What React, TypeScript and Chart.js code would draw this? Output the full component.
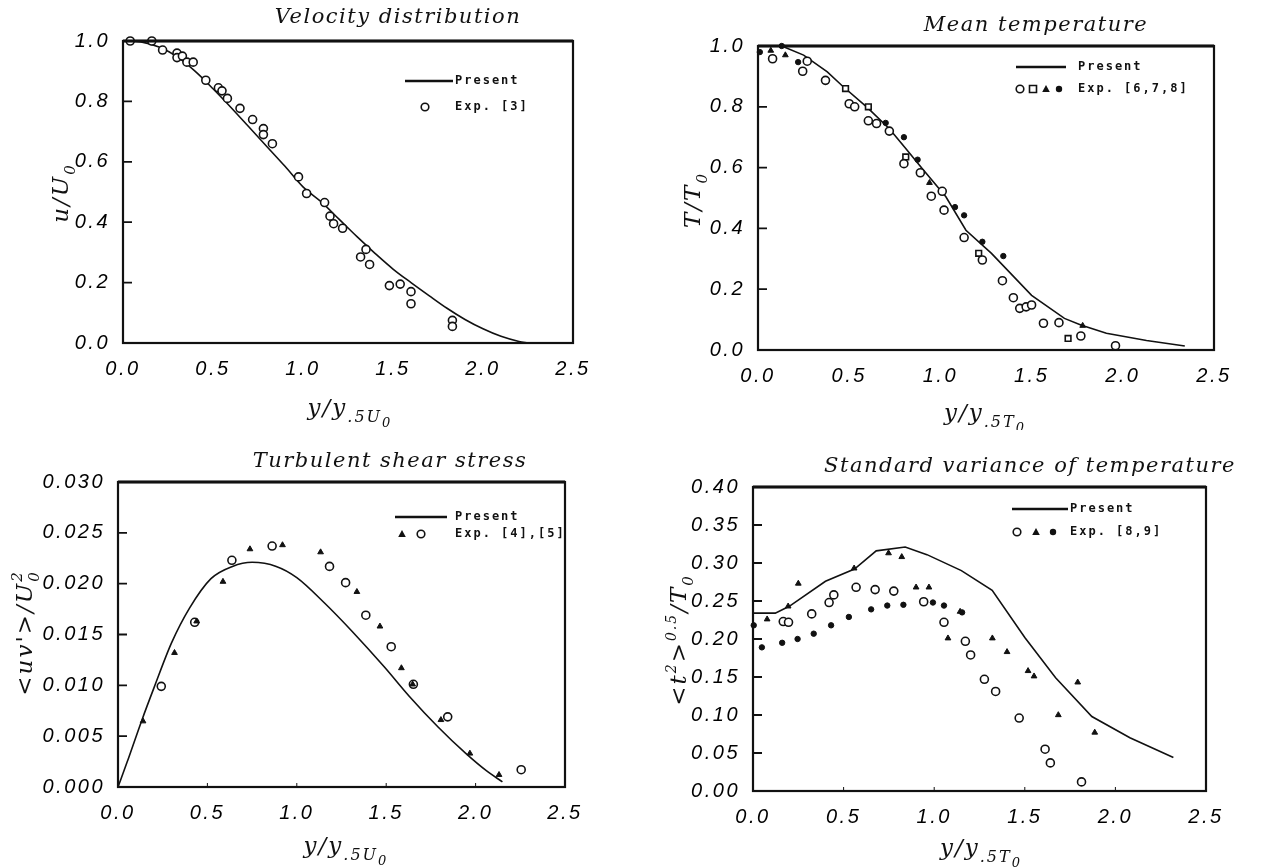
import React, { useEffect, useRef } from "react";
import { Chart, registerables } from "chart.js";

Chart.register(...registerables);

// ---------------- shared axis ticks ----------------
const xTickValues = [0, 0.5, 1.0, 1.5, 2.0, 2.5];
const velYTicks = [0, 0.2, 0.4, 0.6, 0.8, 1.0];
const tempYTicks = [0, 0.2, 0.4, 0.6, 0.8, 1.0];
const shearYTicks = [0, 0.005, 0.01, 0.015, 0.02, 0.025, 0.03];
const varYTicks = [0, 0.05, 0.1, 0.15, 0.2, 0.25, 0.3, 0.35, 0.4];

// ---------------- Velocity distribution ----------------
const velPresentX = [0, 0.1, 0.2, 0.3, 0.4, 0.5, 0.6, 0.7, 0.8, 0.9, 1.0, 1.1, 1.2, 1.3, 1.4, 1.5, 1.6, 1.7, 1.8, 1.9, 2.0, 2.1, 2.2, 2.25];
const velPresentY = [1.0, 0.997, 0.98, 0.948, 0.9, 0.842, 0.78, 0.715, 0.65, 0.585, 0.517, 0.468, 0.41, 0.352, 0.297, 0.245, 0.2, 0.157, 0.115, 0.078, 0.047, 0.022, 0.005, 0.0];
const velExpX = [0.04, 0.16, 0.22, 0.30, 0.30, 0.33, 0.355, 0.39, 0.46, 0.53, 0.55, 0.58, 0.65, 0.72, 0.78, 0.78, 0.83, 0.975, 1.02, 1.12, 1.15, 1.17, 1.22, 1.32, 1.35, 1.37, 1.48, 1.54, 1.60, 1.60, 1.83, 1.83];
const velExpY = [1.0, 1.0, 0.97, 0.96, 0.945, 0.95, 0.93, 0.93, 0.87, 0.845, 0.835, 0.81, 0.777, 0.74, 0.71, 0.69, 0.66, 0.55, 0.495, 0.465, 0.42, 0.395, 0.38, 0.285, 0.31, 0.26, 0.19, 0.195, 0.17, 0.13, 0.075, 0.055];

// ---------------- Mean temperature ----------------
const tempPresentX = [0, 0.13, 0.25, 0.38, 0.46, 0.6, 0.72, 0.81, 0.9, 1.03, 1.14, 1.28, 1.5, 1.68, 1.77, 1.91, 2.13, 2.34];
const tempPresentY = [1.0, 1.0, 0.97, 0.915, 0.87, 0.797, 0.728, 0.663, 0.597, 0.504, 0.394, 0.318, 0.18, 0.104, 0.082, 0.055, 0.031, 0.013];
const tempCircleX = [0.08, 0.27, 0.245, 0.37, 0.50, 0.53, 0.605, 0.65, 0.72, 0.80, 0.89, 0.95, 1.01, 1.02, 1.13, 1.23, 1.34, 1.40, 1.435, 1.47, 1.50, 1.565, 1.65, 1.77, 1.96];
const tempCircleY = [0.958, 0.95, 0.917, 0.887, 0.81, 0.80, 0.754, 0.745, 0.72, 0.613, 0.583, 0.506, 0.522, 0.46, 0.37, 0.296, 0.228, 0.172, 0.137, 0.142, 0.148, 0.088, 0.09, 0.046, 0.014];
const tempSquareX = [0.48, 0.605, 0.81, 1.21, 1.70];
const tempSquareY = [0.86, 0.80, 0.635, 0.318, 0.038];
const tempTriangleX = [0.07, 0.15, 0.94, 1.78];
const tempTriangleY = [0.985, 0.97, 0.55, 0.08];
const tempDotX = [0.01, 0.13, 0.22, 0.70, 0.80, 0.875, 1.08, 1.13, 1.23, 1.345];
const tempDotY = [0.98, 1.0, 0.947, 0.747, 0.70, 0.626, 0.47, 0.443, 0.356, 0.309];

// ---------------- Turbulent shear stress ----------------
const shearPresentX = [0, 0.05, 0.134, 0.2, 0.3, 0.4, 0.52, 0.64, 0.75, 0.885, 1.0, 1.155, 1.31, 1.49, 1.63, 1.79, 1.945, 2.06, 2.15];
const shearPresentY = [0, 0.0024, 0.0066, 0.0097, 0.0142, 0.0176, 0.0205, 0.0217, 0.0221, 0.0217, 0.0206, 0.0181, 0.0153, 0.0118, 0.0089, 0.0059, 0.0033, 0.0016, 0.0005];
const shearTriX = [0.14, 0.316, 0.44, 0.587, 0.738, 0.92, 1.133, 1.336, 1.465, 1.585, 1.648, 1.806, 1.968, 2.131];
const shearTriY = [0.00647, 0.0132, 0.0163, 0.0202, 0.0234, 0.0238, 0.0231, 0.0192, 0.0158, 0.0117, 0.0101, 0.0066, 0.0033, 0.0012];
const shearCircleX = [0.242, 0.429, 0.637, 0.862, 1.183, 1.273, 1.386, 1.528, 1.652, 1.844, 2.255];
const shearCircleY = [0.0099, 0.0162, 0.0223, 0.0237, 0.0217, 0.0201, 0.0169, 0.0138, 0.0101, 0.0069, 0.0017];

// ---------------- Standard variance of temperature ----------------
const varPresentX = [0, 0.123, 0.2, 0.4, 0.56, 0.68, 0.84, 0.96, 1.15, 1.32, 1.5, 1.67, 1.87, 2.08, 2.32];
const varPresentY = [0.234, 0.234, 0.243, 0.276, 0.292, 0.316, 0.321, 0.311, 0.29, 0.264, 0.202, 0.149, 0.098, 0.07, 0.044];
const varCircleX = [0.167, 0.196, 0.324, 0.42, 0.446, 0.569, 0.674, 0.777, 0.942, 1.054, 1.172, 1.201, 1.277, 1.339, 1.469, 1.612, 1.641, 1.813];
const varCircleY = [0.223, 0.222, 0.233, 0.248, 0.258, 0.268, 0.265, 0.263, 0.249, 0.222, 0.197, 0.179, 0.147, 0.131, 0.096, 0.055, 0.037, 0.012];
const varTriX = [0.078, 0.194, 0.25, 0.558, 0.748, 0.821, 0.9, 0.971, 1.076, 1.143, 1.321, 1.402, 1.518, 1.551, 1.685, 1.792, 1.886];
const varTriY = [0.226, 0.243, 0.273, 0.293, 0.313, 0.308, 0.268, 0.268, 0.201, 0.236, 0.201, 0.183, 0.158, 0.151, 0.1, 0.143, 0.077];
const varDotX = [0.004, 0.049, 0.161, 0.246, 0.335, 0.431, 0.529, 0.652, 0.741, 0.83, 0.9375, 0.993, 1.054, 1.154];
const varDotY = [0.218, 0.189, 0.195, 0.2, 0.207, 0.218, 0.229, 0.239, 0.244, 0.245, 0.249, 0.248, 0.244, 0.235];

// ---------------- helpers ----------------
const INK = "#111";

type Marker = "open-circle" | "open-square" | "triangle" | "dot";
type Seg = { t: string; dy?: number; s?: number; stack?: boolean };
interface Series { xs: number[]; ys: number[]; marker: Marker }
interface Panel {
  pos: { left: number; top: number; w: number; h: number };
  area: { l: number; r: number; t: number; b: number };
  line: { xs: number[]; ys: number[]; smooth: boolean };
  exp: Series[];
  yMax: number;
  yTicks: number[];
  yDec: number;
  title: string;
  titlePos: [number, number];
  yTitle: Seg[];
  yTitlePos: [number, number];
  xTitle: Seg[];
  xTitlePos: [number, number];
  legend: { lineX: [number, number]; textX: number; y1: number; y2: number; markerX: number[]; markers: Marker[]; label: string };
  xInTicks: boolean;
}

const pts = (xs: number[], ys: number[]) => xs.map((x, i) => ({ x, y: ys[i] }));

function markerStyle(m: Marker) {
  switch (m) {
    case "open-circle":
      return { pointStyle: "circle", pointRadius: 4, pointBackgroundColor: "#fff", pointBorderColor: INK, pointBorderWidth: 1.6 };
    case "open-square":
      return { pointStyle: "rect", pointRadius: 4, pointBackgroundColor: "#fff", pointBorderColor: INK, pointBorderWidth: 1.6 };
    case "triangle":
      return { pointStyle: "triangle", pointRadius: 3.3, pointBackgroundColor: INK, pointBorderColor: INK, pointBorderWidth: 1 };
    default:
      return { pointStyle: "circle", pointRadius: 2.7, pointBackgroundColor: INK, pointBorderColor: INK, pointBorderWidth: 1 };
  }
}

function drawMarker(ctx: CanvasRenderingContext2D, m: Marker, x: number, y: number) {
  ctx.save();
  ctx.lineWidth = 1.6;
  ctx.strokeStyle = INK;
  ctx.fillStyle = INK;
  ctx.beginPath();
  if (m === "open-circle") {
    ctx.arc(x, y, 3.8, 0, Math.PI * 2);
    ctx.stroke();
  } else if (m === "open-square") {
    ctx.rect(x - 3.5, y - 3.5, 7, 7);
    ctx.stroke();
  } else if (m === "triangle") {
    ctx.moveTo(x, y - 4);
    ctx.lineTo(x + 3.8, y + 3);
    ctx.lineTo(x - 3.8, y + 3);
    ctx.closePath();
    ctx.fill();
  } else {
    ctx.arc(x, y, 3.2, 0, Math.PI * 2);
    ctx.fill();
  }
  ctx.restore();
}

function drawRich(ctx: CanvasRenderingContext2D, segs: Seg[], cx: number, cy: number, size: number, rotate: boolean) {
  ctx.save();
  ctx.translate(cx, cy);
  if (rotate) ctx.rotate(-Math.PI / 2);
  (ctx as any).letterSpacing = "2px";
  ctx.textBaseline = "alphabetic";
  ctx.textAlign = "left";
  const fontFor = (s: number) => `italic ${Math.round(size * s)}px "DejaVu Serif", serif`;
  const widths = segs.map((sg) => {
    ctx.font = fontFor(sg.s ?? 1);
    return ctx.measureText(sg.t).width;
  });
  let total = 0;
  let prevStart = 0;
  const starts: number[] = [];
  segs.forEach((sg, i) => {
    const st = sg.stack ? prevStart : total;
    starts.push(st);
    total = Math.max(total, st + widths[i]);
    prevStart = st;
  });
  const x0 = -total / 2;
  segs.forEach((sg, i) => {
    ctx.font = fontFor(sg.s ?? 1);
    ctx.fillText(sg.t, x0 + starts[i], size * 0.36 + (sg.dy ?? 0) * size);
  });
  ctx.restore();
}

function makeDecor(p: Panel) {
  return {
    id: "decor",
    beforeDraw(chart: any) {
      chart.ctx.letterSpacing = "2.5px";
    },
    afterDraw(chart: any) {
      const ctx: CanvasRenderingContext2D = chart.ctx;
      const a = chart.chartArea;
      ctx.save();
      (ctx as any).letterSpacing = "0px";
      ctx.strokeStyle = INK;
      ctx.fillStyle = INK;
      // frame
      ctx.lineWidth = 2.2;
      ctx.strokeRect(a.left, a.top, a.right - a.left, a.bottom - a.top);
      ctx.lineWidth = 3;
      ctx.beginPath();
      ctx.moveTo(a.left, a.top);
      ctx.lineTo(a.right, a.top);
      ctx.stroke();
      // inward y ticks
      ctx.lineWidth = 1.8;
      const ys = chart.scales.y;
      ctx.beginPath();
      ys.ticks.forEach((t: any) => {
        const py = ys.getPixelForValue(t.value);
        ctx.moveTo(a.left, py);
        ctx.lineTo(a.left + 9, py);
      });
      ctx.stroke();
      if (p.xInTicks) {
        const xs = chart.scales.x;
        ctx.lineWidth = 1;
        ctx.beginPath();
        xs.ticks.forEach((t: any) => {
          if (t.value <= 0 || t.value >= 2.5) return;
          const px = xs.getPixelForValue(t.value);
          ctx.moveTo(px, a.bottom);
          ctx.lineTo(px, a.bottom - 4);
        });
        ctx.stroke();
      }
      // title
      ctx.font = 'italic 21px "DejaVu Serif", serif';
      (ctx as any).letterSpacing = "1.5px";
      ctx.textAlign = "center";
      ctx.textBaseline = "middle";
      ctx.fillText(p.title, p.titlePos[0], p.titlePos[1]);
      // axis titles
      drawRich(ctx, p.yTitle, p.yTitlePos[0], p.yTitlePos[1], 23, true);
      drawRich(ctx, p.xTitle, p.xTitlePos[0], p.xTitlePos[1], 23, false);
      // legend
      const L = p.legend;
      ctx.lineWidth = 2.4;
      ctx.beginPath();
      ctx.moveTo(L.lineX[0], L.y1);
      ctx.lineTo(L.lineX[1], L.y1);
      ctx.stroke();
      ctx.font = 'bold 12px "DejaVu Sans Mono", monospace';
      (ctx as any).letterSpacing = "2px";
      ctx.textAlign = "left";
      ctx.textBaseline = "middle";
      ctx.fillText("Present", L.textX, L.y1);
      ctx.fillText(L.label, L.textX, L.y2);
      L.markers.forEach((m, i) => drawMarker(ctx, m, L.markerX[i], L.y2));
      ctx.restore();
    },
  };
}

// ---------------- panels ----------------
const sub5U: Seg[] = [{ t: "y/y" }, { t: ".5U", dy: 0.3, s: 0.7 }, { t: "0", dy: 0.5, s: 0.55 }];
const sub5T: Seg[] = [{ t: "y/y" }, { t: ".5T", dy: 0.3, s: 0.7 }, { t: "0", dy: 0.5, s: 0.55 }];

const panels: Panel[] = [
  {
    pos: { left: 0, top: 0, w: 635, h: 430 },
    area: { l: 123, r: 573, t: 41, b: 343 },
    line: { xs: velPresentX, ys: velPresentY, smooth: true },
    exp: [{ xs: velExpX, ys: velExpY, marker: "open-circle" }],
    yMax: 1.0,
    yTicks: velYTicks,
    yDec: 1,
    title: "Velocity distribution",
    titlePos: [398, 18],
    yTitle: [{ t: "u/U" }, { t: "0", dy: 0.3, s: 0.65 }],
    yTitlePos: [60, 193],
    xTitle: sub5U,
    xTitlePos: [350, 407],
    legend: { lineX: [405, 453], textX: 455, y1: 81, y2: 107, markerX: [425], markers: ["open-circle"], label: "Exp. [3]" },
    xInTicks: false,
  },
  {
    pos: { left: 635, top: 0, w: 635, h: 430 },
    area: { l: 123, r: 579, t: 46, b: 350 },
    line: { xs: tempPresentX, ys: tempPresentY, smooth: false },
    exp: [
      { xs: tempCircleX, ys: tempCircleY, marker: "open-circle" },
      { xs: tempSquareX, ys: tempSquareY, marker: "open-square" },
      { xs: tempTriangleX, ys: tempTriangleY, marker: "triangle" },
      { xs: tempDotX, ys: tempDotY, marker: "dot" },
    ],
    yMax: 1.0,
    yTicks: tempYTicks,
    yDec: 1,
    title: "Mean temperature",
    titlePos: [401, 26],
    yTitle: [{ t: "T/T" }, { t: "0", dy: 0.3, s: 0.65 }],
    yTitlePos: [57, 200],
    xTitle: sub5T,
    xTitlePos: [350, 412],
    legend: { lineX: [381, 431], textX: 443, y1: 67, y2: 89, markerX: [385, 398, 411, 424], markers: ["open-circle", "open-square", "triangle", "dot"], label: "Exp. [6,7,8]" },
    xInTicks: false,
  },
  {
    pos: { left: 0, top: 430, w: 635, h: 437 },
    area: { l: 118, r: 565, t: 52, b: 357 },
    line: { xs: shearPresentX, ys: shearPresentY, smooth: true },
    exp: [
      { xs: shearTriX, ys: shearTriY, marker: "triangle" },
      { xs: shearCircleX, ys: shearCircleY, marker: "open-circle" },
    ],
    yMax: 0.03,
    yTicks: shearYTicks,
    yDec: 3,
    title: "Turbulent shear stress",
    titlePos: [390, 32],
    yTitle: [{ t: "<uv'>/U" }, { t: "0", dy: 0.3, s: 0.65 }, { t: "2", dy: -0.45, s: 0.65, stack: true }],
    yTitlePos: [24, 203],
    xTitle: sub5U,
    xTitlePos: [346, 415],
    legend: { lineX: [395, 447], textX: 455, y1: 87, y2: 104, markerX: [402, 421], markers: ["triangle", "open-circle"], label: "Exp. [4],[5]" },
    xInTicks: true,
  },
  {
    pos: { left: 635, top: 430, w: 635, h: 437 },
    area: { l: 118, r: 571, t: 57, b: 361 },
    line: { xs: varPresentX, ys: varPresentY, smooth: false },
    exp: [
      { xs: varCircleX, ys: varCircleY, marker: "open-circle" },
      { xs: varTriX, ys: varTriY, marker: "triangle" },
      { xs: varDotX, ys: varDotY, marker: "dot" },
    ],
    yMax: 0.4,
    yTicks: varYTicks,
    yDec: 2,
    title: "Standard variance of temperature",
    titlePos: [395, 37],
    yTitle: [{ t: "<t" }, { t: "2", dy: -0.45, s: 0.6 }, { t: ">" }, { t: "0.5", dy: -0.45, s: 0.6 }, { t: "/T" }, { t: "0", dy: 0.3, s: 0.65 }],
    yTitlePos: [43, 210],
    xTitle: sub5T,
    xTitlePos: [346, 417],
    legend: { lineX: [377, 433], textX: 435, y1: 79, y2: 102, markerX: [382, 401, 418], markers: ["open-circle", "triangle", "dot"], label: "Exp. [8,9]" },
    xInTicks: true,
  },
];

const tickFont = { family: '"Liberation Sans", Arial, sans-serif', size: 20, style: "italic" as const };

function PanelChart({ p }: { p: Panel }) {
  const ref = useRef<HTMLCanvasElement | null>(null);
  useEffect(() => {
    if (!ref.current) return;
    const datasets: any[] = [
      {
        label: "Present",
        data: pts(p.line.xs, p.line.ys),
        showLine: true,
        borderColor: INK,
        borderWidth: 1.6,
        pointRadius: 0,
        fill: false,
        cubicInterpolationMode: p.line.smooth ? "monotone" : "default",
        tension: 0,
        order: 2,
      },
      ...p.exp.map((s, i) => ({
        label: "Exp " + i,
        data: pts(s.xs, s.ys),
        showLine: false,
        clip: false,
        order: 1,
        ...markerStyle(s.marker),
      })),
    ];
    const chart = new Chart(ref.current, {
      type: "scatter",
      data: { datasets },
      plugins: [makeDecor(p) as any],
      options: {
        animation: false,
        responsive: false,
        events: [],
        layout: { padding: { left: 0, top: p.area.t, right: p.pos.w - p.area.r, bottom: 0 } },
        plugins: { legend: { display: false }, tooltip: { enabled: false }, title: { display: false } },
        scales: {
          x: {
            type: "linear",
            min: 0,
            max: 2.5,
            grid: { display: false },
            border: { display: false },
            afterBuildTicks: (s: any) => {
              s.ticks = xTickValues.map((v) => ({ value: v }));
            },
            afterFit: (s: any) => {
              s.height = p.pos.h - p.area.b;
            },
            ticks: {
              color: "#000",
              font: tickFont,
              padding: 6,
              maxRotation: 0,
              autoSkip: false,
              callback: (v: any) => Number(v).toFixed(1),
            },
          },
          y: {
            type: "linear",
            min: 0,
            max: p.yMax,
            grid: { display: false },
            border: { display: false },
            afterBuildTicks: (s: any) => {
              s.ticks = p.yTicks.map((v) => ({ value: v }));
            },
            afterFit: (s: any) => {
              s.width = p.area.l;
            },
            ticks: {
              color: "#000",
              font: tickFont,
              padding: 5,
              autoSkip: false,
              callback: (v: any) => Number(v).toFixed(p.yDec),
            },
          },
        },
      } as any,
    });
    return () => chart.destroy();
  }, [p]);
  return (
    <canvas
      ref={ref}
      width={p.pos.w}
      height={p.pos.h}
      style={{ position: "absolute", left: p.pos.left, top: p.pos.top, width: p.pos.w, height: p.pos.h }}
    />
  );
}

export default function App() {
  return (
    <div style={{ position: "absolute", left: 0, top: 0, width: 1270, height: 867, background: "#fff", overflow: "hidden" }}>
      {panels.map((p, i) => (
        <PanelChart key={i} p={p} />
      ))}
    </div>
  );
}
